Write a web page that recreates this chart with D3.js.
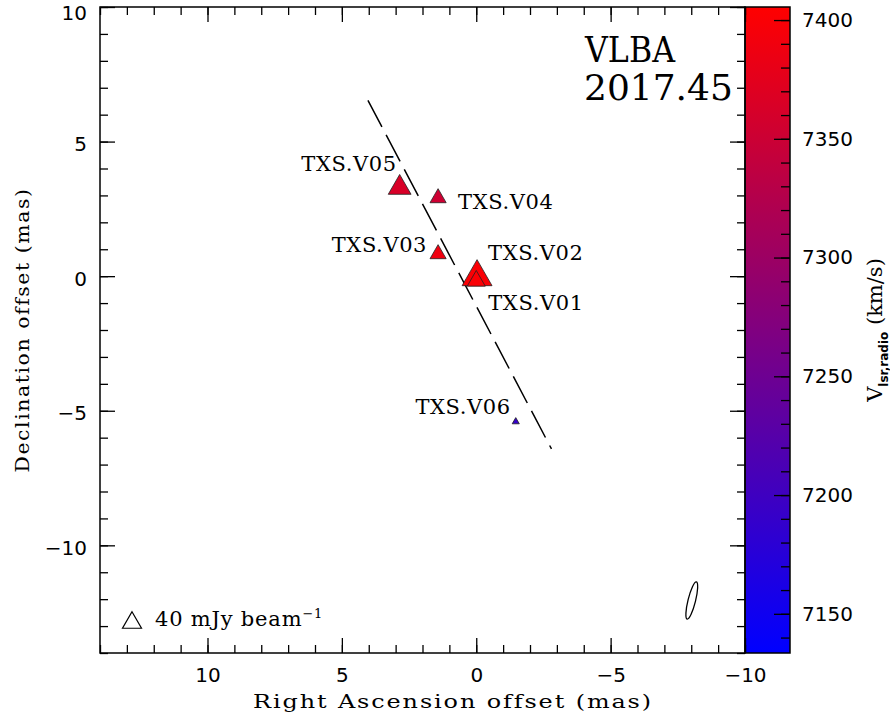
<!DOCTYPE html>
<html><head><meta charset="utf-8">
<script src="https://cdn.jsdelivr.net/npm/d3@7"></script>
<style>
body{margin:0;background:#fff;}
.tick text{font-family:"DejaVu Sans",sans-serif;font-size:20px;fill:#000;}
.serif{font-family:"DejaVu Serif",serif;fill:#000;}
</style></head><body><div id="chart"></div>
<script>
// maser spots (offsets in mas, velocity in km/s, peak flux in mJy/beam)
const spotNames = ["TXS.V01","TXS.V02","TXS.V03","TXS.V04","TXS.V05","TXS.V06"];
const spotRA   = [0.0, -0.03, 1.42, 1.42, 2.85, -1.47];
const spotDec  = [-0.08, 0.13, 0.91, 2.99, 3.41, -5.37];
const spotVel  = [7400, 7400, 7390, 7352, 7364, 7190];
const spotFlux = [38, 63, 34, 34, 48, 15];

// dashed line through the spots
const lineRA  = [4.03, -2.8];
const lineDec = [6.53, -6.42];

// restoring beam
const beamRA = -8.02, beamDec = -12.05, beamMaj = 1.42, beamMin = 0.28, beamPA = 14;

const xTicks  = [10, 5, 0, -5, -10];
const yTicks  = [-10, -5, 0, 5, 10];
const cbTicks = [7150, 7200, 7250, 7300, 7350, 7400];
const legendFlux = 40;

// label placement (pixels from the marker)
const labelPos = [
  {dx: 12, dy: 32, anchor: "start"},
  {dx: 11, dy: -13, anchor: "start"},
  {dx: -11, dy: 0, anchor: "end"},
  {dx: 20, dy: 13, anchor: "start"},
  {dx: -3, dy: -13, anchor: "end"},
  {dx: -5, dy: -7, anchor: "end"}
];

const W = 890, H = 722;
const pLeft = 100, pRight = 745, pTop = 7, pBottom = 653;
const cbRight = 790;

const svg = d3.select("#chart").append("svg").attr("width", W).attr("height", H);

const x = d3.scaleLinear().domain([14, -10]).range([pLeft, pRight]);
const y = d3.scaleLinear().domain([-14, 10]).range([pBottom, pTop]);
const vDomain = [7133.5, 7405.5];
const color = d3.scaleLinear().domain(vDomain).range(["#0000ff", "#ff0000"]).interpolate(d3.interpolateRgb);
const cbY = d3.scaleLinear().domain(vDomain).range([pBottom, pTop]);
const size = d3.scaleLinear().domain([0, 40]).range([0, 19]);

// colour bar
const grad = svg.append("defs").append("linearGradient").attr("id", "cb")
  .attr("x1", 0).attr("y1", 1).attr("x2", 0).attr("y2", 0);
d3.range(0, 1.0001, 0.1).forEach(t => {
  grad.append("stop").attr("offset", t).attr("stop-color", color(vDomain[0] + t * (vDomain[1] - vDomain[0])));
});
svg.append("rect").attr("x", pRight).attr("y", pTop).attr("width", cbRight - pRight).attr("height", pBottom - pTop)
  .attr("fill", "url(#cb)");

// axes helpers
function ticksOnly(g) { g.select(".domain").remove(); g.selectAll("line").attr("stroke", "#000").attr("stroke-width", 1.3); }
const minorX = d3.range(-10, 14.01, 1), minorY = d3.range(-14, 10.01, 1);

// bottom
svg.append("g").attr("transform", `translate(0,${pBottom})`)
  .call(d3.axisBottom(x).tickValues(minorX).tickSize(-8).tickFormat("")).call(ticksOnly);
svg.append("g").attr("transform", `translate(0,${pBottom})`)
  .call(d3.axisBottom(x).tickValues(xTicks).tickSize(-15).tickPadding(15)).call(ticksOnly);
// top
svg.append("g").attr("transform", `translate(0,${pTop})`)
  .call(d3.axisTop(x).tickValues(minorX).tickSize(-8).tickFormat("")).call(ticksOnly);
svg.append("g").attr("transform", `translate(0,${pTop})`)
  .call(d3.axisTop(x).tickValues(xTicks).tickSize(-15).tickFormat("")).call(ticksOnly);
// left
svg.append("g").attr("transform", `translate(${pLeft},0)`)
  .call(d3.axisLeft(y).tickValues(minorY).tickSize(-8).tickFormat("")).call(ticksOnly);
svg.append("g").attr("transform", `translate(${pLeft},0)`)
  .call(d3.axisLeft(y).tickValues(yTicks).tickSize(-15).tickPadding(13)).call(ticksOnly)
  .selectAll("text").attr("dy", d => d === 10 ? "0.6em" : "0.46em");
// right
svg.append("g").attr("transform", `translate(${pRight},0)`)
  .call(d3.axisRight(y).tickValues(minorY).tickSize(-8).tickFormat("")).call(ticksOnly);
svg.append("g").attr("transform", `translate(${pRight},0)`)
  .call(d3.axisRight(y).tickValues(yTicks).tickSize(-15).tickFormat("")).call(ticksOnly);
// colour bar axis
svg.append("g").attr("transform", `translate(${cbRight},0)`)
  .call(d3.axisRight(cbY).tickValues(d3.range(7140, 7401, 10)).tickSize(-9).tickFormat("")).call(ticksOnly);
svg.append("g").attr("transform", `translate(${cbRight},0)`)
  .call(d3.axisRight(cbY).tickValues(cbTicks).tickSize(-16).tickPadding(12).tickFormat(d3.format("d"))).call(ticksOnly);

// frames
svg.append("rect").attr("x", pLeft).attr("y", pTop).attr("width", pRight - pLeft).attr("height", pBottom - pTop)
  .attr("fill", "none").attr("stroke", "#000").attr("stroke-width", 1.5);
svg.append("rect").attr("x", pRight).attr("y", pTop).attr("width", cbRight - pRight).attr("height", pBottom - pTop)
  .attr("fill", "none").attr("stroke", "#000").attr("stroke-width", 1.5);

// dashed line
svg.append("path")
  .attr("d", d3.line()(lineRA.map((r, i) => [x(r), y(lineDec[i])])))
  .attr("stroke", "#000").attr("stroke-width", 1.5).attr("stroke-dasharray", "30 9").attr("fill", "none");

// spots
const spots = spotNames.map((n, i) => ({name: n, ra: spotRA[i], dec: spotDec[i], v: spotVel[i], f: spotFlux[i], lp: labelPos[i]}));
function tri(w) { const h = w * 0.87; return `M0,${-h / 2}L${w / 2},${h / 2}L${-w / 2},${h / 2}Z`; }

svg.append("g").selectAll("path").data(spots.slice().sort((a, b) => b.f - a.f)).join("path")
  .attr("transform", d => `translate(${x(d.ra)},${y(d.dec)})`)
  .attr("d", d => tri(size(d.f)))
  .attr("fill", d => color(d.v)).attr("stroke", "#222").attr("stroke-width", 0.8);

svg.append("g").selectAll("text").data(spots).join("text").attr("class", "serif")
  .attr("x", d => x(d.ra) + d.lp.dx).attr("y", d => y(d.dec) + d.lp.dy)
  .attr("text-anchor", d => d.lp.anchor).style("font-size", "21px").style("letter-spacing", "0.6px")
  .text(d => d.name);

// beam
svg.append("ellipse")
  .attr("transform", `translate(${x(beamRA)},${y(beamDec)}) rotate(${beamPA})`)
  .attr("rx", x(0) - x(beamMin / 2)).attr("ry", y(0) - y(beamMaj / 2))
  .attr("fill", "none").attr("stroke", "#000").attr("stroke-width", 1.3);

// legend
svg.append("path").attr("transform", "translate(132,620)").attr("d", tri(size(legendFlux)))
  .attr("fill", "none").attr("stroke", "#000").attr("stroke-width", 1.2);
const lg = svg.append("text").attr("class", "serif").attr("x", 155).attr("y", 626).style("font-size", "21px")
  .style("letter-spacing", "0.8px");
lg.append("tspan").text(legendFlux + " mJy beam");
lg.append("tspan").attr("dy", -8).style("font-size", "13px").text("−1");

// epoch
svg.append("text").attr("class", "serif").attr("x", 585).attr("y", 62).style("font-size", "36px")
  .attr("textLength", 90).attr("lengthAdjust", "spacingAndGlyphs").text("VLBA");
svg.append("text").attr("class", "serif").attr("x", 584).attr("y", 100).style("font-size", "36px").text("2017.45");

// axis titles
svg.append("text").attr("class", "serif").attr("x", 453).attr("y", 708).attr("text-anchor", "middle")
  .style("font-size", "19px").style("letter-spacing", "1.5px")
  .attr("textLength", 400).attr("lengthAdjust", "spacingAndGlyphs").text("Right Ascension offset (mas)");
svg.append("text").attr("class", "serif").attr("transform", "translate(29,330) rotate(-90)").attr("text-anchor", "middle")
  .style("font-size", "19px").style("letter-spacing", "1.5px")
  .attr("textLength", 285).attr("lengthAdjust", "spacingAndGlyphs").text("Declination offset (mas)");
const ct = svg.append("text").attr("class", "serif").attr("transform", "translate(882,330) rotate(-90)")
  .attr("text-anchor", "middle").style("font-size", "21px");
ct.append("tspan").text("V");
ct.append("tspan").attr("dy", 6).style("font-size", "12px").style("font-family", "DejaVu Sans").style("font-weight", "bold").text("lsr,radio");
ct.append("tspan").attr("dy", -6).text(" (km/s)");
</script></body></html>
